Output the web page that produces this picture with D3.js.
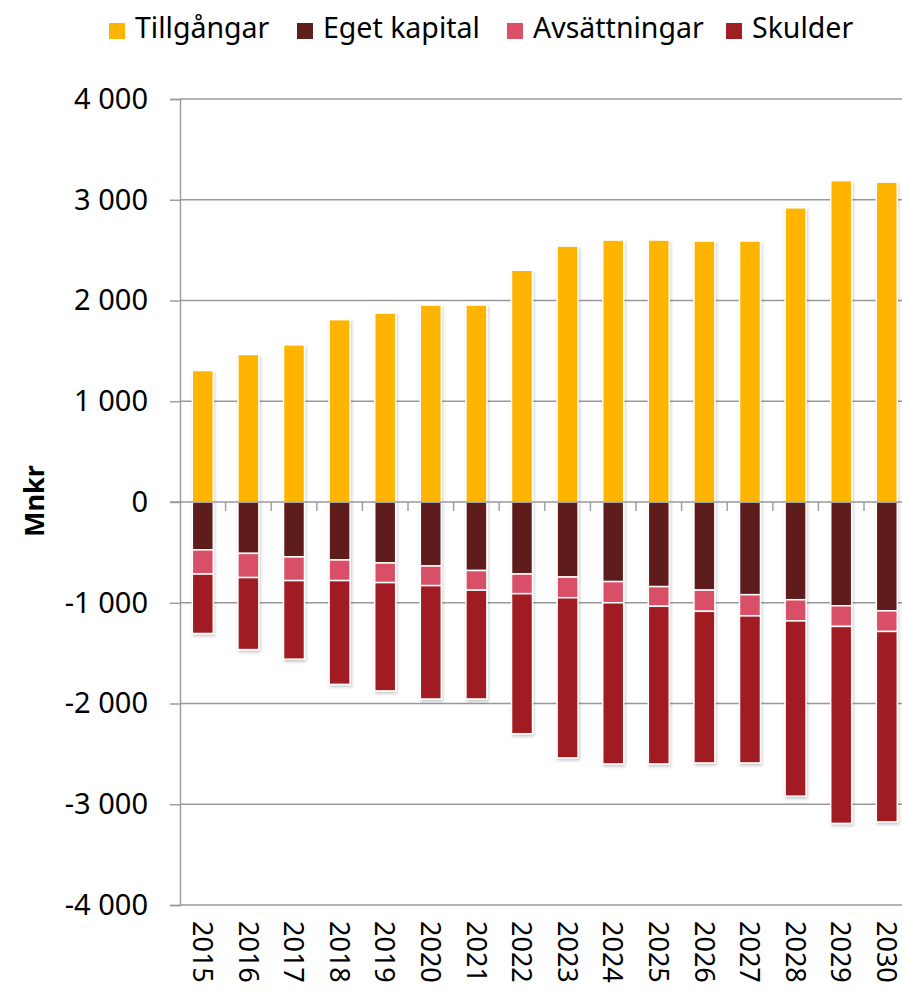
<!DOCTYPE html>
<html>
<head>
<meta charset="utf-8">
<script src="https://cdn.jsdelivr.net/npm/d3@7"></script>
<style>
  body { margin: 0; background: #fff; }
  text { font-family: "Noto Sans", "Open Sans", sans-serif; }
</style>
</head>
<body>
<div id="chart"></div>
<script>
// data (Mnkr)
const years = ["2015","2016","2017","2018","2019","2020","2021","2022","2023","2024","2025","2026","2027","2028","2029","2030"];
const tillgangar = [1305, 1465, 1560, 1810, 1875, 1955, 1955, 2300, 2540, 2600, 2600, 2590, 2590, 2920, 3190, 3175];
const egetKapital = [475, 510, 545, 575, 605, 635, 680, 715, 745, 790, 840, 875, 920, 970, 1030, 1080];
const avsattningar = [240, 240, 235, 205, 195, 195, 195, 195, 205, 210, 195, 210, 210, 210, 205, 205];
const skulder = [590, 715, 780, 1030, 1075, 1125, 1080, 1390, 1590, 1600, 1565, 1505, 1460, 1740, 1955, 1890];
const yTicks = [-4000, -3000, -2000, -1000, 0, 1000, 2000, 3000, 4000];

const seriesNames = ["Tillgångar", "Eget kapital", "Avsättningar", "Skulder"];
const colors = ["#FFB500", "#5F1F1F", "#DA5068", "#A11F22"];

const width = 902, height = 995;
const plotLeft = 180, band = 45.6;

const svg = d3.select("#chart").append("svg")
    .attr("width", width)
    .attr("height", height);

const defs = svg.append("defs");
const f = defs.append("filter").attr("id", "shadow")
    .attr("x", "-30%").attr("y", "-10%").attr("width", "160%").attr("height", "130%");
f.append("feDropShadow")
    .attr("dx", 1).attr("dy", 2).attr("stdDeviation", 1.8)
    .attr("flood-color", "#000").attr("flood-opacity", 0.22);

const x = d3.scaleBand()
    .domain(years)
    .range([plotLeft, plotLeft + band * years.length])
    .paddingInner(0.54)
    .paddingOuter(0.27);

const y = d3.scaleLinear()
    .domain([-4000, 4000])
    .range([905, 99]);

const fmt = d => d3.format(",")(d).replace(/,/g, " ").replace("−", "-");

// gridlines + y axis
const yAxis = svg.append("g")
    .attr("transform", `translate(${plotLeft},0)`)
    .call(d3.axisLeft(y)
        .tickValues(yTicks)
        .tickSize(10)
        .tickPadding(22)
        .tickFormat(fmt));
yAxis.select(".domain").attr("stroke", "#999").attr("stroke-width", 1.4);
yAxis.selectAll(".tick line").attr("stroke", "#999").attr("stroke-width", 1.4);
yAxis.selectAll(".tick text")
    .style("font-size", "29px")
    .attr("fill", "#000");

svg.append("g")
    .selectAll("line")
    .data(yTicks.filter(d => d !== 0))
    .join("line")
    .attr("x1", plotLeft)
    .attr("x2", width)
    .attr("y1", d => y(d))
    .attr("y2", d => y(d))
    .attr("stroke", "#999")
    .attr("stroke-width", 1.4);

// stacks
const rows = years.map((yr, i) => ({
    year: yr,
    segs: [
        { s: 0, y0: 0, y1: tillgangar[i] },
        { s: 1, y0: 0, y1: -egetKapital[i] },
        { s: 2, y0: -egetKapital[i], y1: -egetKapital[i] - avsattningar[i] },
        { s: 3, y0: -egetKapital[i] - avsattningar[i], y1: -egetKapital[i] - avsattningar[i] - skulder[i] }
    ]
}));

const barGroups = svg.append("g")
    .selectAll("g")
    .data(rows)
    .join("g")
    .attr("filter", "url(#shadow)");

barGroups.selectAll("rect")
    .data(d => d.segs.map(s => ({ ...s, year: d.year })))
    .join("rect")
    .attr("x", d => x(d.year))
    .attr("width", x.bandwidth())
    .attr("y", d => y(Math.max(d.y0, d.y1)))
    .attr("height", d => Math.abs(y(d.y0) - y(d.y1)))
    .attr("fill", d => colors[d.s])
    .attr("stroke", "#fff")
    .attr("stroke-width", 1.5);

// zero line with category ticks
const xAxis = svg.append("g")
    .attr("transform", `translate(0,${y(0)})`);
xAxis.append("line")
    .attr("x1", plotLeft - 10).attr("x2", width)
    .attr("stroke", "#999").attr("stroke-width", 1.4);
xAxis.selectAll(".ctick")
    .data(years.slice(1))
    .join("line")
    .attr("x1", d => x(d) - x.step() * x.paddingInner() / 2)
    .attr("x2", d => x(d) - x.step() * x.paddingInner() / 2)
    .attr("y1", 0).attr("y2", 9)
    .attr("stroke", "#999").attr("stroke-width", 1.4);

// year labels, rotated
svg.append("g")
    .selectAll("text")
    .data(years)
    .join("text")
    .attr("transform", d => `translate(${x(d) + x.bandwidth() / 2},921) rotate(90)`)
    .attr("dy", "0.36em")
    .style("font-size", "27px")
    .text(d => d);

// y title
svg.append("text")
    .attr("transform", `translate(44,501) rotate(-90)`)
    .attr("text-anchor", "middle")
    .style("font-size", "27px")
    .style("font-weight", "bold")
    .text("Mnkr");

// legend
const legendX = [109, 297, 507, 726];
const legend = svg.append("g")
    .selectAll("g")
    .data(seriesNames)
    .join("g")
    .attr("transform", (d, i) => `translate(${legendX[i]},0)`);
legend.append("rect")
    .attr("x", 0).attr("y", 23)
    .attr("width", 16).attr("height", 16)
    .attr("fill", (d, i) => colors[i]);
legend.append("text")
    .attr("x", 26).attr("y", 38)
    .style("font-size", "28.5px")
    .text(d => d);
</script>
</body>
</html>
